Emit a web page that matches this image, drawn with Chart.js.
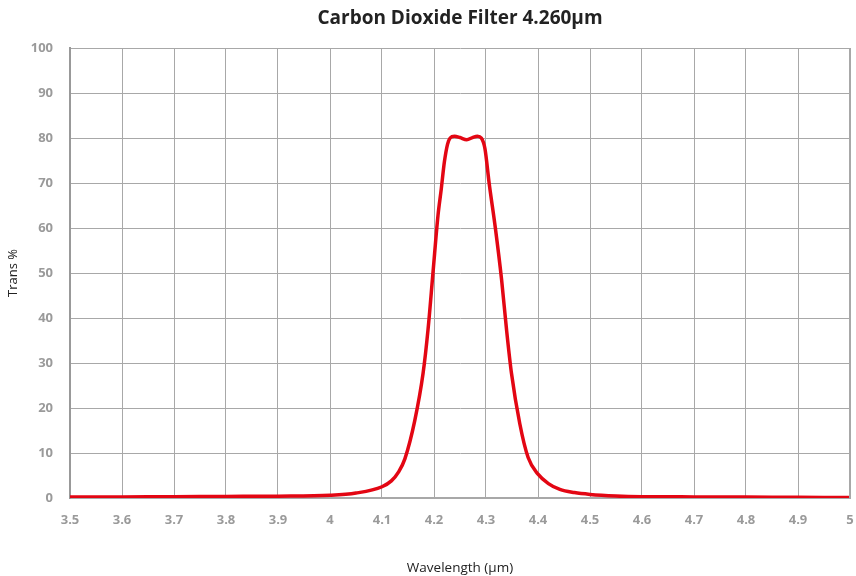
<!DOCTYPE html>
<html>
<head>
<meta charset="utf-8">
<script src="https://cdn.jsdelivr.net/npm/chart.js@4.4.1/dist/chart.umd.min.js"></script>
<style>
  html, body { margin: 0; padding: 0; background: #fff; }
  #wrap { width: 856px; height: 576px; }
</style>
</head>
<body>
<div id="wrap"><canvas id="co2Chart" width="856" height="576"></canvas></div>
<script>
// Wavelength (um) and transmission (%)
const wavelength = [3.5, 3.6, 3.7, 3.8, 3.9, 4.0, 4.05, 4.1, 4.118, 4.132, 4.144, 4.163, 4.179, 4.1885, 4.198, 4.2076, 4.214, 4.220, 4.226, 4.231, 4.2395, 4.250, 4.263, 4.274, 4.2835, 4.291, 4.298, 4.306, 4.318, 4.330, 4.3395, 4.349, 4.365, 4.381, 4.400, 4.420, 4.442, 4.47, 4.5, 4.55, 4.6, 4.7, 4.8, 4.9, 5.0];
const transmission = [0.2, 0.25, 0.3, 0.35, 0.4, 0.6, 1.1, 2.5, 3.8, 5.8, 8.7, 17.2, 27.7, 37.4, 50, 62.7, 68.7, 74.7, 78.6, 80.0, 80.4, 80.1, 79.6, 80.1, 80.4, 80.0, 77.6, 70.0, 60.0, 48.5, 37.4, 27.7, 16.5, 9.0, 5.3, 3.2, 1.9, 1.2, 0.8, 0.45, 0.3, 0.25, 0.2, 0.15, 0.1];
const xTicks = [3.5, 3.6, 3.7, 3.8, 3.9, 4, 4.1, 4.2, 4.3, 4.4, 4.5, 4.6, 4.7, 4.8, 4.9, 5];

const points = wavelength.map((w, i) => ({ x: w, y: transmission[i] }));

const tickFont = { family: 'Open Sans', size: 13, weight: 'bold' };

new Chart(document.getElementById('co2Chart').getContext('2d'), {
    type: 'line',
    data: {
        datasets: [{
            label: 'Trans %',
            data: points,
            borderColor: '#e30613',
            borderWidth: 3.5,
            pointRadius: 0,
            fill: false,
            cubicInterpolationMode: 'monotone'
        }]
    },
    options: {
        responsive: false,
        animation: false,
        layout: { padding: { left: 0, right: 6, top: 0, bottom: 0 } },
        plugins: {
            legend: { display: false },
            tooltip: { enabled: false },
            title: {
                display: true,
                fullSize: false, // centre over the plot box, not the canvas
                text: 'Carbon Dioxide Filter 4.260µm',
                color: '#222',
                font: { family: 'Open Sans', size: 19, weight: 'bold' },
                padding: { top: 7, bottom: 18.2 }
            }
        },
        scales: {
            x: {
                type: 'linear',
                min: 3.5,
                max: 5,
                afterBuildTicks: (scale) => { scale.ticks = xTicks.map(v => ({ value: v })); },
                afterFit: (scale) => {
                    scale.height = 78;
                    // let the plot run right up to the 5 um line
                    scale.paddingRight = 0;
                    scale.paddingLeft = 0;
                },
                ticks: {
                    color: '#9a9a9a',
                    font: tickFont,
                    padding: 14,
                    maxRotation: 0,
                    callback: (v) => String(v)
                },
                grid: { color: '#a8a8a8', lineWidth: 1, drawTicks: false },
                border: { color: '#a8a8a8', width: 2 },
                title: {
                    display: true,
                    text: 'Wavelength (µm)',
                    color: '#222',
                    font: { family: 'Open Sans', size: 13.5 },
                    padding: { top: 0, bottom: 0 }
                }
            },
            y: {
                min: 0,
                max: 100,
                afterFit: (scale) => { scale.width = 70; },
                ticks: {
                    stepSize: 10,
                    color: '#9a9a9a',
                    font: tickFont,
                    padding: 17
                },
                grid: { color: '#a8a8a8', lineWidth: 1, drawTicks: false },
                border: { color: '#999', width: 2 },
                title: {
                    display: true,
                    text: 'Trans %',
                    color: '#222',
                    font: { family: 'Open Sans', size: 13 },
                    padding: { top: 5, bottom: 0 }
                }
            }
        }
    },
    plugins: [{
        id: 'frame',
        afterDraw(chart) {
            // right edge of the plot box at 5 um
            const a = chart.chartArea, c = chart.ctx;
            c.save();
            c.strokeStyle = '#a8a8a8';
            c.lineWidth = 1;
            c.beginPath();
            c.moveTo(a.right - 0.5, a.top);
            c.lineTo(a.right - 0.5, a.bottom);
            c.stroke();
            c.restore();
        }
    }]
});
</script>
</body>
</html>
